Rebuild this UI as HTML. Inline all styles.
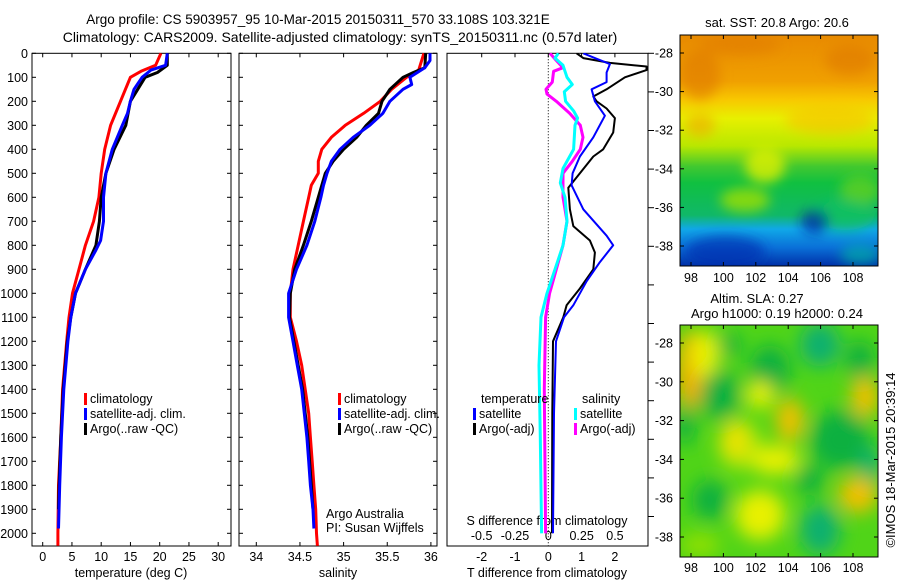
<!DOCTYPE html>
<html><head><meta charset="utf-8"><style>
html,body{margin:0;padding:0;background:#fff;width:900px;height:580px;overflow:hidden}
svg{display:block;font-family:"Liberation Sans",sans-serif}
</style></head><body>
<svg id="fig" width="900" height="580" viewBox="0 0 900 580">
<defs>
<linearGradient id="sstg" x1="0" y1="0" x2="0" y2="1">
<stop offset="0" stop-color="#e88a00"/><stop offset="0.2" stop-color="#f0a000"/><stop offset="0.28" stop-color="#f8c800"/>
<stop offset="0.36" stop-color="#e8f000"/><stop offset="0.48" stop-color="#b8e800"/><stop offset="0.57" stop-color="#40c830"/>
<stop offset="0.64" stop-color="#10c040"/><stop offset="0.78" stop-color="#10b868"/><stop offset="0.84" stop-color="#10a8e8"/><stop offset="0.92" stop-color="#0a70d8"/><stop offset="1" stop-color="#0030a8"/>
</linearGradient>
<filter id="blur6"><feGaussianBlur stdDeviation="6"/></filter>
<filter id="blur10"><feGaussianBlur stdDeviation="9"/></filter>
<clipPath id="m1clip"><rect x="680" y="35" width="198" height="231"/></clipPath>
<clipPath id="m2clip"><rect x="680" y="325" width="198" height="232"/></clipPath>
<clipPath id="p3clip"><rect x="447" y="53" width="201" height="493"/></clipPath>
</defs>
<g font-size="13.5" text-anchor="middle" fill="#000">
<text x="318" y="24">Argo profile: CS 5903957_95 10-Mar-2015 20150311_570 33.108S 103.321E</text>
<text x="340" y="42" font-size="14">Climatology: CARS2009. Satellite-adjusted climatology: synTS_20150311.nc (0.57d later)</text>
</g>
<g id="plots"></g>
<g id="maps">
<g clip-path="url(#m1clip)">
<rect x="680" y="35" width="198" height="231" fill="url(#sstg)"/>
<g filter="url(#blur6)">
<ellipse cx="700" cy="75" rx="20" ry="25" fill="#e07800" opacity="0.6"/>
<ellipse cx="850" cy="60" rx="25" ry="15" fill="#e07800" opacity="0.6"/>
<ellipse cx="740" cy="45" rx="40" ry="10" fill="#e07800" opacity="0.5"/>
<ellipse cx="700" cy="125" rx="15" ry="12" fill="#f0a800" opacity="0.6"/>
<ellipse cx="830" cy="120" rx="45" ry="14" fill="#f8c000" opacity="0.6"/>
<ellipse cx="765" cy="165" rx="20" ry="18" fill="#e0f000" opacity="0.8"/>
<ellipse cx="860" cy="190" rx="20" ry="15" fill="#60d020" opacity="0.8"/>
<ellipse cx="845" cy="215" rx="30" ry="15" fill="#10c060" opacity="0.8"/>
<ellipse cx="745" cy="200" rx="25" ry="12" fill="#a0e000" opacity="0.8"/>
<ellipse cx="725" cy="252" rx="40" ry="16" fill="#0030b0" opacity="0.7"/>
<ellipse cx="815" cy="222" rx="14" ry="12" fill="#0020a0" opacity="0.7"/>
<ellipse cx="860" cy="255" rx="20" ry="10" fill="#00c0a0" opacity="0.6"/>
</g>
</g>
<rect x="680" y="35" width="198" height="231" fill="none" stroke="#000"/>
<g clip-path="url(#m2clip)">
<rect x="680" y="325" width="198" height="232" fill="#50d418"/>
<g filter="url(#blur10)">
<ellipse cx="690" cy="370" rx="14" ry="40" fill="#f0b000"/>
<ellipse cx="705" cy="355" rx="14" ry="25" fill="#e8f000"/>
<ellipse cx="730" cy="345" rx="12" ry="10" fill="#10b040"/>
<ellipse cx="720" cy="395" rx="20" ry="25" fill="#10b040"/>
<ellipse cx="770" cy="370" rx="20" ry="25" fill="#10b040"/>
<ellipse cx="820" cy="345" rx="20" ry="22" fill="#10b070"/>
<ellipse cx="860" cy="360" rx="14" ry="20" fill="#10b040"/>
<ellipse cx="865" cy="397" rx="14" ry="20" fill="#f0c000"/>
<ellipse cx="790" cy="420" rx="14" ry="22" fill="#f0c000"/>
<ellipse cx="760" cy="395" rx="14" ry="14" fill="#e8f000"/>
<ellipse cx="735" cy="440" rx="14" ry="20" fill="#f0d000"/>
<ellipse cx="740" cy="445" rx="22" ry="25" fill="#e8f000" opacity="0.6"/>
<ellipse cx="685" cy="425" rx="10" ry="20" fill="#10b040"/>
<ellipse cx="775" cy="460" rx="25" ry="15" fill="#e8f000"/>
<ellipse cx="840" cy="440" rx="30" ry="30" fill="#10b040"/>
<ellipse cx="870" cy="465" rx="10" ry="20" fill="#10b070"/>
<ellipse cx="858" cy="495" rx="20" ry="18" fill="#f0c000"/>
<ellipse cx="710" cy="500" rx="18" ry="20" fill="#10b040"/>
<ellipse cx="760" cy="515" rx="25" ry="25" fill="#e8f000"/>
<ellipse cx="820" cy="530" rx="20" ry="25" fill="#10b070"/>
<ellipse cx="810" cy="480" rx="14" ry="15" fill="#10b040"/>
<ellipse cx="700" cy="545" rx="20" ry="12" fill="#90e000"/>
</g>
</g>
<rect x="680" y="325" width="198" height="232" fill="none" stroke="#000"/>
<g font-size="13" text-anchor="middle">
<text x="777" y="27">sat. SST: 20.8 Argo: 20.6</text>
<text x="757" y="303">Altim. SLA: 0.27</text>
<text x="777" y="318">Argo h1000: 0.19 h2000: 0.24</text>
</g>
<text transform="translate(895,460) rotate(-90)" font-size="13" text-anchor="middle">©IMOS 18-Mar-2015 20:39:14</text>
</g>
</svg>
<script>
// ---------- data ----------
var depthTicks=[0,100,200,300,400,500,600,700,800,900,1000,1100,1200,1300,1400,1500,1600,1700,1800,1900,2000];
var tempTicks=[0,5,10,15,20,25,30];
var salTicks=[34,34.5,35,35.5,36];
var dTTicks=[-2,-1,0,1,2];
var dSTicks=[-0.5,-0.25,0,0.25,0.5];
var dSTickLabels=["-0.5","-0.25","0","0.25","0.5"];
var latTicks=[-28,-30,-32,-34,-36,-38];
var lonTicks=[98,100,102,104,106,108];

var tClimDepth=[0,50,75,100,200,300,400,500,600,700,800,900,1000,1100,1200,1400,1600,1800,2000,2052];
var tClim=[20.2,19.3,16.8,15,13.3,11.6,10.6,10,9.6,8.7,7.3,6.2,5.1,4.5,4.1,3.4,3.1,2.7,2.6,2.6];
var tSatDepth=[0,50,70,100,150,200,250,300,400,500,600,700,780,820,900,1000,1100,1200,1400,1600,1800,1980];
var tSat=[21.3,21,18.5,17,15.6,15,14.5,13.6,11.9,10.8,10.4,10.4,9.9,9.1,7.3,5.6,4.8,4.3,3.6,3.2,2.9,2.7];
var tArgoDepth=[0,50,80,100,200,300,400,500,600,700,800,900,1000,1100,1200,1400,1600,1800,1900];
var tArgo=[21.3,21.3,19.6,17.5,15,14.2,12.2,10.8,10,9.7,9.1,7.3,5.6,4.8,4.2,3.5,3.1,2.8,2.7];

var sClimDepth=[0,70,100,150,200,250,300,350,400,450,500,550,600,700,800,900,1000,1100,1200,1300,1400,1500,1600,1700,1800,1900,2000,2052];
var sClim=[35.92,35.86,35.72,35.55,35.42,35.23,35.02,34.86,34.75,34.71,34.71,34.63,34.6,34.54,34.48,34.42,34.39,34.39,34.46,34.52,34.56,34.6,34.62,34.64,34.66,34.68,34.69,34.7];
var sSatDepth=[0,30,60,100,130,150,200,250,300,350,400,450,500,550,600,700,800,900,1000,1100,1200,1300,1400,1500,1600,1700,1800,1900,1980];
var sSat=[35.99,35.99,35.93,35.76,35.78,35.68,35.53,35.45,35.3,35.11,34.96,34.86,34.81,34.77,34.74,34.67,34.58,34.46,34.37,34.37,34.42,34.47,34.52,34.55,34.58,34.6,34.62,34.65,34.66];
var sArgoDepth=[0,60,80,100,150,200,250,300,350,400,450,500,600,700,800,900,1000,1100,1200,1400,1600,1800,1900];
var sArgo=[35.94,35.93,35.8,35.68,35.53,35.44,35.4,35.26,35.15,35.0,34.88,34.79,34.71,34.63,34.54,34.44,34.39,34.38,34.43,34.53,34.59,34.63,34.65];

var dTArgoDepth=[0,20,40,55,70,100,150,180,200,230,270,330,400,430,500,560,650,720,780,830,900,980,1050,1100,1200,1500,2000];
var dTArgo=[0.85,1.05,1.85,2.95,2.95,2.3,1.75,1.35,1.45,1.75,2.0,1.95,1.65,1.35,0.95,0.6,0.65,0.75,1.25,1.4,1.35,0.95,0.55,0.45,0.14,0.12,0.11];
var dTSatDepth=[0,20,45,80,120,150,200,260,350,430,500,550,650,760,800,870,950,1050,1100,1200,1500,2000];
var dTSat=[1.05,1.4,1.85,1.75,1.75,1.3,1.4,1.7,1.35,0.95,0.73,0.7,1.05,1.75,1.95,1.55,1.15,0.75,0.47,0.23,0.17,0.14];
var dSSatDepth=[0,20,50,100,130,160,200,240,270,300,400,480,540,600,700,800,900,1000,1100,1300,1600,2000];
var dSSat=[0.075,0.05,0.11,0.14,0.18,0.12,0.13,0.19,0.22,0.2,0.19,0.11,0.09,0.125,0.14,0.11,0.05,-0.01,-0.055,-0.07,-0.06,-0.05];
var dSArgoDepth=[0,30,60,75,120,150,170,200,250,300,350,400,450,500,600,700,800,900,1000,1100,1400,2000];
var dSArgo=[0.013,0.06,0.11,0.04,0.03,-0.017,-0.01,0.06,0.16,0.24,0.26,0.24,0.18,0.11,0.11,0.14,0.11,0.06,0.01,-0.02,-0.03,-0.02];

// ---------- scales ----------
var NS="http://www.w3.org/2000/svg";
var TOP=53.3,BOT=546;
function yD(d){return TOP+d*0.24;}
function xT(t){return 42.7+t*5.85;}
function xS(s){return 256.3+(s-34)*87.3;}
function xdT(v){return 548.3+v*33.3;}
function xdS(v){return 548.3+v*133.3;}
var g=document.getElementById('plots');
function el(tag,attrs,parent){var e=document.createElementNS(NS,tag);for(var k in attrs)e.setAttribute(k,attrs[k]);(parent||g).appendChild(e);return e;}
function txt(x,y,s,anchor,size,parent){var t=el('text',{x:x,y:y,'font-size':size||12.5,'text-anchor':anchor||'middle'},parent);t.textContent=s;return t;}
function line(xs,ds,fx,color,w,name,clip){
  var p=xs.map(function(v,i){return fx(v).toFixed(1)+','+yD(ds[i]).toFixed(1);}).join(' ');
  var e=el('polyline',{points:p,fill:'none',stroke:color,'stroke-width':w,'stroke-linejoin':'round'});
  if(clip)e.setAttribute('clip-path',clip);
  
  
  return e;
}
function panel(x0,x1,name){
  var r=el('rect',{x:x0,y:TOP,width:x1-x0,height:BOT-TOP,fill:'none',stroke:'#000','stroke-width':1});
  
  
}
panel(32,231,'temperature-panel');
panel(239,437,'salinity-panel');
panel(447,648,'difference-panel');
depthTicks.forEach(function(d){
  var t=txt(28,yD(d)+4.5,String(d),'end',12.5);
  
  
  [[32,36],[227,231],[239,243],[433,437]].forEach(function(s){el('line',{x1:s[0],x2:s[1],y1:yD(d),y2:yD(d),stroke:'#000'});});
});
for(var i=0;i<13;i++){var yy=TOP+i*38.6;if(yy>BOT)break;el('line',{x1:648,x2:654,y1:yy,y2:yy,stroke:'#000'});}
tempTicks.forEach(function(t){
  var x=xT(t);el('line',{x1:x,x2:x,y1:TOP,y2:TOP+4,stroke:'#000'});el('line',{x1:x,x2:x,y1:BOT-4,y2:BOT,stroke:'#000'});
  var e=txt(x,561,String(t));
});
salTicks.forEach(function(s){
  var x=xS(s);el('line',{x1:x,x2:x,y1:TOP,y2:TOP+4,stroke:'#000'});el('line',{x1:x,x2:x,y1:BOT-4,y2:BOT,stroke:'#000'});
  var e=txt(x,561,String(s));
});
dTTicks.forEach(function(v){
  var x=xdT(v);el('line',{x1:x,x2:x,y1:TOP,y2:TOP+4,stroke:'#000'});
  var e=txt(x,561,String(v));
});
dSTicks.forEach(function(v,i){
  var e=txt(xdS(v),540,dSTickLabels[i]);
});
var xl1=txt(131,577,'temperature (deg C)');
var xl2=txt(338,577,'salinity');
var xl3=txt(547,577,'T difference from climatology');
var xl4=txt(547,525,'S difference from climatology');
var cr1=txt(326,518,'Argo Australia','start');
var cr2=txt(326,532,'PI: Susan Wijffels','start');
el('line',{x1:xdT(0),x2:xdT(0),y1:TOP,y2:BOT,stroke:'#000','stroke-dasharray':'1,2'});
line(tClim,tClimDepth,xT,'#ff0000',3,'temperature-climatology-line');
line(tArgo,tArgoDepth,xT,'#000000',3,'temperature-argo-line');
line(tSat,tSatDepth,xT,'#0000ff',3,'temperature-satellite-line');
line(sClim,sClimDepth,xS,'#ff0000',3,'salinity-climatology-line');
line(sArgo,sArgoDepth,xS,'#000000',3,'salinity-argo-line');
line(sSat,sSatDepth,xS,'#0000ff',3,'salinity-satellite-line');
line(dSArgo,dSArgoDepth,xdS,'#ff00ff',3,'s-diff-argo-line','url(#p3clip)');
line(dSSat,dSSatDepth,xdS,'#00ffff',3,'s-diff-satellite-line','url(#p3clip)');
line(dTArgo,dTArgoDepth,xdT,'#000000',2,'t-diff-argo-line','url(#p3clip)');
line(dTSat,dTSatDepth,xdT,'#0000ff',2,'t-diff-satellite-line','url(#p3clip)');
function legend(x,y,color,label,name){
  var r=el('rect',{x:x,y:y-10,width:3,height:12,fill:color});
  var t=txt(x+6,y,label,'start',12.5);
  var gg=el('g',{});gg.appendChild(r);gg.appendChild(t);
  
  
}
legend(84,403,'#ff0000','climatology','legend-temp-climatology');
legend(84,418,'#0000ff','satellite-adj. clim.','legend-temp-satellite');
legend(84,433,'#000000','Argo(..raw -QC)','legend-temp-argo');
legend(338,403,'#ff0000','climatology','legend-sal-climatology');
legend(338,418,'#0000ff','satellite-adj. clim.','legend-sal-satellite');
legend(338,433,'#000000','Argo(..raw -QC)','legend-sal-argo');
var lt=txt(481,403,'temperature','start');
var ls=txt(582,403,'salinity','start');
legend(473,418,'#0000ff','satellite','legend-dt-satellite');
legend(473,433,'#000000','Argo(-adj)','legend-dt-argo');
legend(574,418,'#00ffff','satellite','legend-ds-satellite');
legend(574,433,'#ff00ff','Argo(-adj)','legend-ds-argo');
var mg=document.getElementById('maps');
function mapAxes(top,bot,lat0y,lonY){
  latTicks.forEach(function(la,i){
    var y=lat0y+i*((bot-top)===231?38.6:38.8);
    el('line',{x1:680,x2:684,y1:y,y2:y,stroke:'#000'},mg);el('line',{x1:874,x2:878,y1:y,y2:y,stroke:'#000'},mg);
    var t=txt(673,y+4.5,String(la),'end',12.5,mg);
  });
  lonTicks.forEach(function(lo){
    var x=691+(lo-98)*16.2;
    el('line',{x1:x,x2:x,y1:top,y2:top+4,stroke:'#000'},mg);el('line',{x1:x,x2:x,y1:bot-4,y2:bot,stroke:'#000'},mg);
    var t=txt(x,lonY,String(lo),'middle',12.5,mg);
  });
}
mapAxes(35,266,53,282);
mapAxes(325,557,343,572);
</script>
</body></html>
